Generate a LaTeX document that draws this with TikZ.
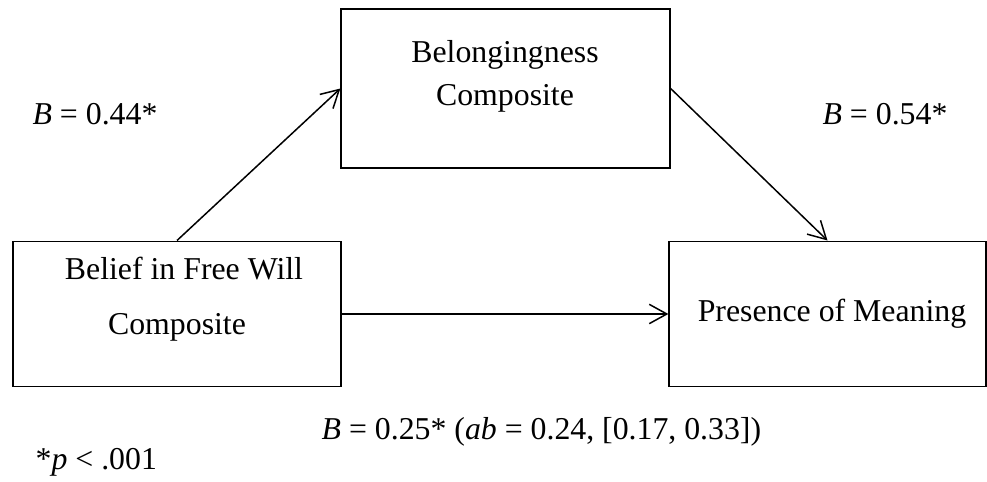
\documentclass[tikz,border=0pt]{standalone}
\usepackage{fontspec}
\setmainfont{Liberation Serif}
\usetikzlibrary{arrows.meta, positioning}
\tikzset{
  every picture/.style={line width=0.75pt},
  box/.style={draw=black, rectangle, inner sep=0pt},
  arrow/.style={-{Straight Barb[length=10pt, width=11pt]}, draw=black, line width=0.85pt},
  txt/.style={font=\fontsize{18.1}{22}\selectfont, inner sep=0pt, anchor=base},
}

\begin{document}
\begin{tikzpicture}[x=0.02cm, y=-0.02cm]
  \useasboundingbox (0,0) rectangle (987,482);
  % boxes
  \node[box, minimum width=6.566cm, minimum height=2.914cm] (free) at (177,314) {};
  \node[box, minimum width=6.58cm, minimum height=3.18cm] (belong) at (505.5,88.5) {};
  \node[box, minimum width=6.34cm, minimum height=2.914cm] (meaning) at (827.5,314) {};
  % box texts
  \node[txt] (belong1) at (505,63) {Belongingness};
  \node[txt] (belong2) at (505,106) {Composite};
  \node[txt] (free1) at (184,280) {Belief in Free Will};
  \node[txt] (free2) at (177,335) {Composite};
  \node[txt] (meaning1) at (832,322) {Presence of Meaning};
  % paths
  \draw[arrow] (free.north) -- (belong.west);
  \draw[arrow] (belong.east) -- (meaning.north);
  \draw[arrow] (free.east) -- (meaning.west);
  % coefficients
  \node[txt] (pa) at (95,125) {\textit{B} = 0.44*};
  \node[txt] (pb) at (885,125) {\textit{B} = 0.54*};
  \node[txt, anchor=base west] (pc) at (321,440) {\textit{B} = 0.25* (\textit{ab} = 0.24, [0.17, 0.33])};
  \node[txt, anchor=base west] (sig) at (35,470) {*\textit{p} {\char"3C} .001};
\end{tikzpicture}
\end{document}
